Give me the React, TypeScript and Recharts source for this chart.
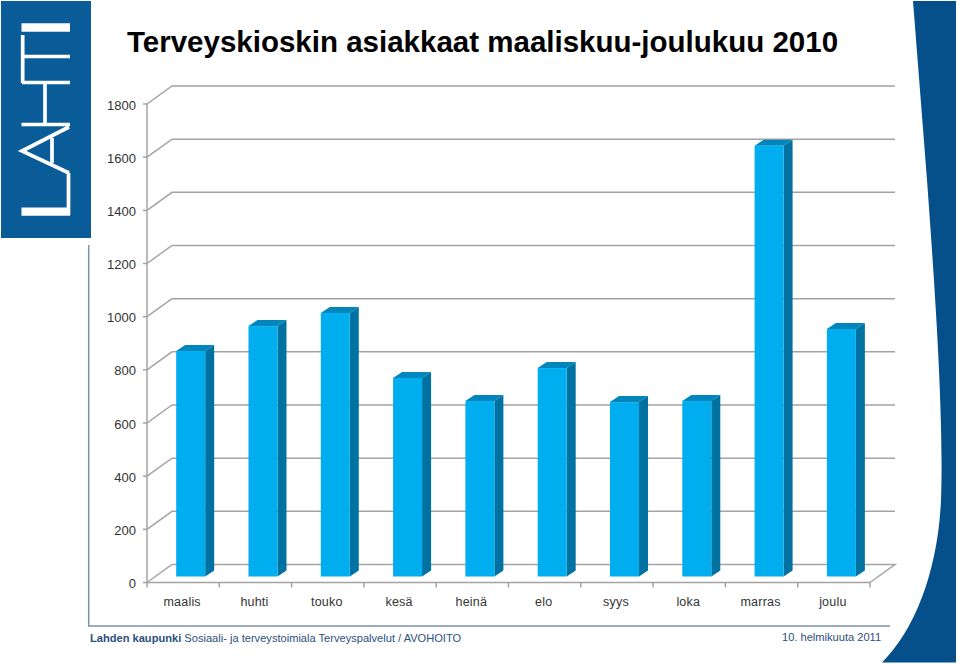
import { Bar, BarChart, CartesianGrid, XAxis, YAxis } from 'recharts';

const MONTHS = ['maalis', 'huhti', 'touko', 'kesä', 'heinä', 'elo', 'syys', 'loka', 'marras', 'joulu'];
const CLIENTS = [848, 942, 991, 747, 660, 784, 656, 660, 1620, 931];
const Y_TICKS = [0, 200, 400, 600, 800, 1000, 1200, 1400, 1600, 1800];

const TITLE = 'Terveyskioskin asiakkaat maaliskuu-joulukuu 2010';
const FOOTER_BOLD = 'Lahden kaupunki';
const FOOTER_TEXT = 'Sosiaali- ja terveystoimiala Terveyspalvelut / AVOHOITO';
const FOOTER_DATE = '10. helmikuuta 2011';

const FONT = '"Liberation Sans", Arial, sans-serif';
const GRID = '#a3a3a3';
const TEXT = '#333333';
const NAVY = '#054f8b';
const FOOTER = '#2c5080';

// wall depth of the fake 3d plot
const WALL_DX = 25;
const WALL_DY = 18;

const rows = MONTHS.map((month, i) => ({ month, clients: CLIENTS[i] }));

function WallLine(props: any) {
  const { x1, y1, x2, y, height } = props;
  const floor = Math.abs(y1 - (y + height)) < 1;
  const back = y1 - WALL_DY;
  const d = `M${x1},${y1}L${x1 + WALL_DX},${back}L${x2 + WALL_DX},${back}` + (floor ? `L${x2},${y1}` : '');
  return <path key={props.key} d={d} fill="none" stroke={GRID} strokeWidth={1.5} />;
}

function Block(props: any) {
  const { x, y, width, height } = props;
  const left = x + 7.5;
  const top = y - 6;
  const bottom = y + height - 6;
  const right = left + width;
  return (
    <g>
      <polygon points={`${left},${top} ${left + 9},${top - 6} ${right + 9},${top - 6} ${right},${top}`} fill="#0086bd" />
      <polygon points={`${right},${top} ${right + 9},${top - 6} ${right + 9},${bottom - 6} ${right},${bottom}`} fill="#0072a2" />
      <rect x={left} y={top} width={width} height={height} fill="#00aeef" />
    </g>
  );
}

function MonthTick(props: any) {
  const { x, y, index, payload } = props;
  const step = 72.3;
  return (
    <g>
      {index === 0 && <line x1={x - step / 2} x2={x - step / 2} y1={y - 8} y2={y - 3} stroke={GRID} strokeWidth={1.5} />}
      <line x1={x + step / 2} x2={x + step / 2} y1={y - 8} y2={y - 3} stroke={GRID} strokeWidth={1.5} />
      <text x={x - 1} y={y + 15} textAnchor="middle" fontSize={12.5} fontFamily={FONT} fill={TEXT} letterSpacing={0.2}>
        {payload.value}
      </text>
    </g>
  );
}

function Logo() {
  return (
    <svg width={90} height={237} style={{ position: 'absolute', left: 1, top: 1 }}>
      <title>LAHTI</title>
      <rect width={90} height={237} fill="#0a5c99" />
      <g fill="none" stroke="#ffffff">
        <path d="M20.5,26.5H69" strokeWidth={8.5} />
        <path d="M21,55.5H69M21,81.5H69M21.7,34V82M44,82V124" strokeWidth={3.7} />
        <path d="M20.5,123.5H69M68,126L21,150L68,172M67.5,172V214M51,137V162" strokeWidth={3.7} />
        <path d="M20.5,210.6H69" strokeWidth={8.2} />
      </g>
    </svg>
  );
}

export default function App() {
  return (
    <div style={{ position: 'absolute', left: 0, top: 0, width: 960, height: 664, background: '#fff', overflow: 'hidden' }}>
      <Logo />
      <svg width={960} height={664} style={{ position: 'absolute', left: 0, top: 0 }}>
        <path d="M913,1H956V662.5H882C915,630 938,570 941,500C944,420 935,290 927,180Z" fill={NAVY} />
        <path d="M88.7,245V626H890" fill="none" stroke="#7d93a8" strokeWidth={1.5} />
      </svg>
      <div style={{ position: 'absolute', left: 127, top: 25, fontFamily: FONT, fontWeight: 700, fontSize: 29.5, color: '#000', whiteSpace: 'nowrap' }}>{TITLE}</div>
      <BarChart
        width={960}
        height={664}
        data={rows}
        margin={{ top: 104, right: 90, bottom: 41.5, left: 87 }}
        barCategoryGap="30%"
        style={{ position: 'absolute', left: 0, top: 0 }}
      >
        <CartesianGrid vertical={false} horizontal={(p: any) => <WallLine {...p} />} />
        <XAxis dataKey="month" height={40} interval={0} axisLine={{ stroke: GRID, strokeWidth: 1.5 }} tickLine={false} tick={(p: any) => <MonthTick {...p} />} />
        <YAxis
          width={60}
          domain={[0, 1800]}
          ticks={Y_TICKS}
          interval={0}
          tickSize={4}
          tickMargin={7}
          axisLine={{ stroke: GRID, strokeWidth: 1.5 }}
          tickLine={{ stroke: GRID, strokeWidth: 1.5 }}
          tick={{ fill: TEXT, fontSize: 13, fontFamily: FONT, dy: 1 }}
        />
        <Bar dataKey="clients" isAnimationActive={false} shape={(p: any) => <Block {...p} />} />
      </BarChart>
      <div style={{ position: 'absolute', left: 90, top: 632, fontFamily: FONT, fontSize: 11.1, letterSpacing: 0, color: FOOTER, whiteSpace: 'nowrap' }}>
        <b>{FOOTER_BOLD}</b> {FOOTER_TEXT}
      </div>
      <div style={{ position: 'absolute', left: 782, top: 631, fontFamily: FONT, fontSize: 11.1, color: FOOTER, whiteSpace: 'nowrap' }}>{FOOTER_DATE}</div>
    </div>
  );
}
